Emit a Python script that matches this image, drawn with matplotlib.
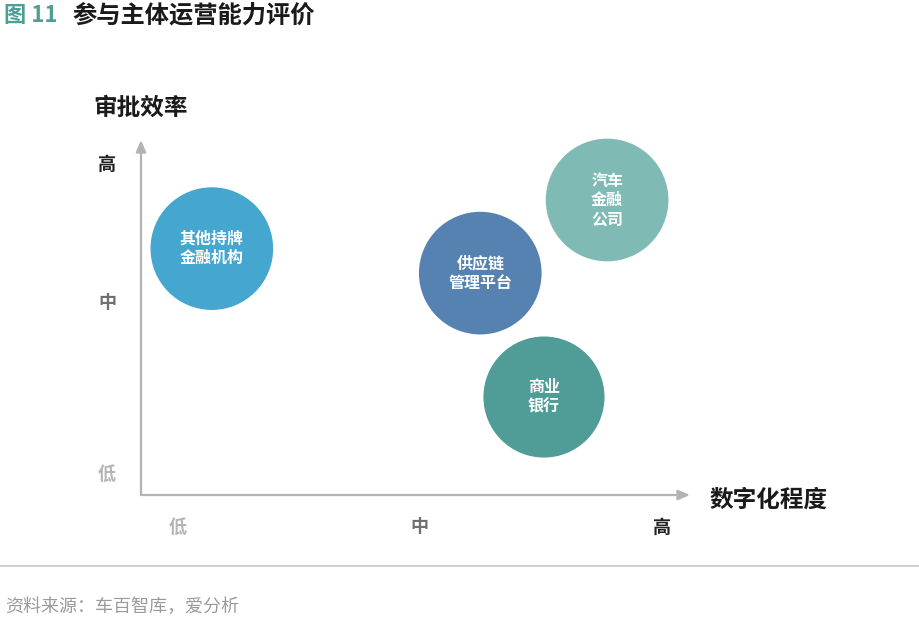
import matplotlib
matplotlib.use("Agg")
import matplotlib.pyplot as plt

plt.rcParams['font.family'] = ['Noto Sans CJK SC', 'DejaVu Sans']

# Data
entities = ["其他持牌\n金融机构", "供应链\n管理平台", "汽车\n金融\n公司", "商业\n银行"]
digitalization = [1.29, 6.18, 8.49, 7.34]   # x score (0-10)
efficiency = [6.94, 6.25, 8.31, 2.76]       # y score (0-10)
bubble_size = [7800, 7800, 7800, 7600]
colors = ["#45A6D0", "#5582B1", "#7FBAB5", "#509C97"]

x_tick_pos = [0.67, 5.08, 9.49]
y_tick_pos = [0.59, 5.41, 9.30]
level_labels = ["低", "中", "高"]
level_colors = ["#b5b5b5", "#707070", "#222222"]

fig = plt.figure(figsize=(9.2, 6.24), dpi=100)
W, H = 920, 624
# axes box: x pixels 141..690, y pixels 140..495
ax = fig.add_axes([141 / W, 1 - 495 / H, (690 - 141) / W, (495 - 140) / H])
ax.set_xlim(0, 10)
ax.set_ylim(0, 10)
for s in ax.spines.values():
    s.set_visible(False)
ax.set_xticks([])
ax.set_yticks([])
ax.patch.set_alpha(0)

# axes arrows
arrow_kw = dict(arrowstyle='-|>,head_length=0.7,head_width=0.3', color='#b3b3b3', lw=1.6,
                shrinkA=0, shrinkB=0)
ax.annotate('', xy=(1, 0), xytext=(0, 0), xycoords='axes fraction', arrowprops=arrow_kw)
ax.annotate('', xy=(0, 1), xytext=(0, 0), xycoords='axes fraction', arrowprops=arrow_kw)

ax.scatter(digitalization, efficiency, s=bubble_size, c=colors, edgecolors='none', zorder=3,
           clip_on=False)
for x, y, t in zip(digitalization, efficiency, entities):
    ax.text(x, y, t, ha='center', va='center', color='white', fontsize=11.5,
            fontweight='bold', linespacing=1.25, zorder=4)

# tick labels
for p, lab, c in zip(x_tick_pos, level_labels, level_colors):
    ax.text(p, -0.9, lab, ha='center', va='center', color=c, fontsize=13,
            fontweight='bold', transform=ax.transData, clip_on=False)
for p, lab, c in zip(y_tick_pos, level_labels, level_colors):
    ax.text(-0.62, p, lab, ha='center', va='center', color=c, fontsize=13,
            fontweight='bold', clip_on=False)

# axis titles
fig.text(93 / W, 1 - 108 / H, "审批效率", ha='left', va='center', fontsize=17,
         fontweight='bold', color='#1a1a1a')
fig.text(710 / W, 1 - 500 / H, "数字化程度", ha='left', va='center', fontsize=17,
         fontweight='bold', color='#1a1a1a')

# title
fig.text(4 / W, 1 - 15 / H, "图 11", ha='left', va='center', fontsize=16,
         fontweight='bold', color='#4E9E98')
fig.text(72 / W, 1 - 15 / H, "参与主体运营能力评价", ha='left', va='center', fontsize=17.5,
         fontweight='bold', color='#1a1a1a')

# separator line and source
fig.add_artist(plt.Line2D([0, 1], [1 - 566 / H, 1 - 566 / H], color='#c8c8c8', lw=1.2))
fig.text(5 / W, 1 - 607 / H, "资料来源：车百智库，爱分析", ha='left', va='center',
         fontsize=13, color='#9a9a9a')

fig.savefig("out.png", dpi=100)
